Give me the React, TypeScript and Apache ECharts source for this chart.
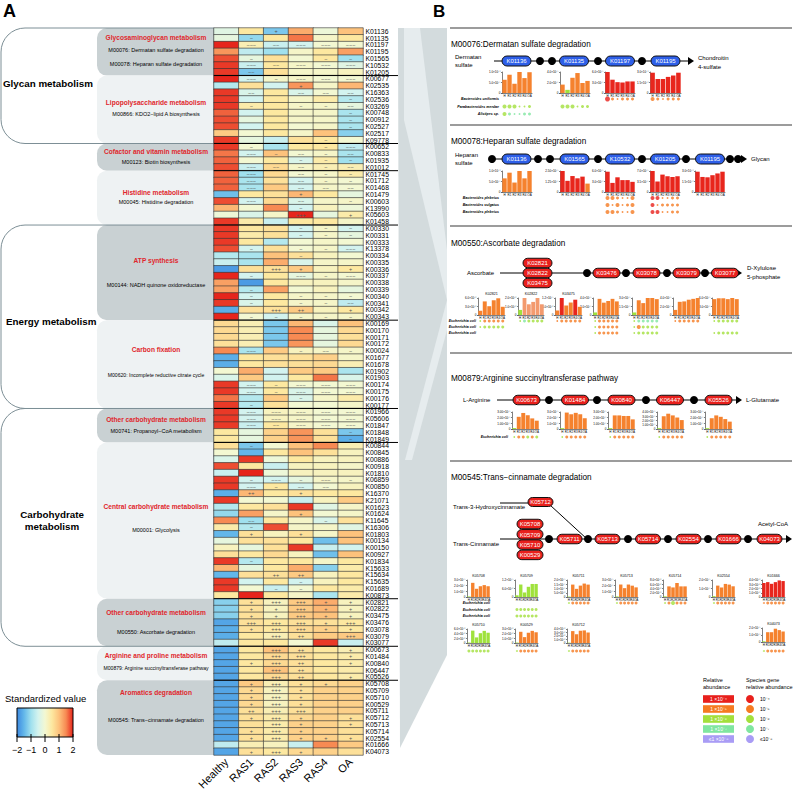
import React, { useEffect, useRef } from 'react';
import * as echarts from 'echarts';

const FONT = 'Liberation Sans, Arial, Helvetica, sans-serif';

// ---------------- Panel A data ----------------
const COLS = ['Healthy', 'RAS1', 'RAS2', 'RAS3', 'RAS4', 'OA'];
const ROWS = [
  'K01136','K01135','K01197','K01195','K01565','K10532','K01205','K00677','K02535','K16363',
  'K02536','K03269','K00748','K00912','K02527','K02517','K09778','K00652','K00833','K01935',
  'K01012','K01745','K01712','K01468','K01479','K00603','K13990','K05603','K01458','K00330',
  'K00331','K00333','K13378','K00334','K00335','K00336','K00337','K00338','K00339','K00340',
  'K00341','K00342','K00343','K00169','K00170','K00171','K00172','K00024','K01677','K01678',
  'K01902','K01903','K00174','K00175','K00176','K00177','K01966','K05606','K01847','K01848',
  'K01849','K00844','K00845','K00886','K00918','K01810','K06859','K00850','K16370','K21071',
  'K01623','K01624','K11645','K16306','K01803','K00134','K00150','K00927','K01834','K15633',
  'K15634','K15635','K01689','K00873','K02821','K02822','K03475','K03476','K03078','K03079',
  'K03077','K00673','K01484','K00840','K06447','K05526','K05708','K05709','K05710','K00529',
  'K05711','K05712','K05713','K05714','K02554','K01666','K04073'
];
const VALUES = [
  [-0.3,0.5,-1.3,1.2,-0.1,1.0],[-0.2,-1.1,0.5,1.6,0.1,0.5],[2,0.3,-0.6,-0.5,0,0],[1.4,-0.7,-1.0,0.1,0.5,1.3],
  [1.8,-0.2,0.6,0,0.5,-1.0],[1.9,-0.6,0.5,0.1,0,-0.3],[1.9,-1.3,0.6,0.1,0.1,0.2],[2,-0.5,0.1,0.1,0,0],
  [-0.8,0.6,-0.5,1.4,0.1,1.1],[1.9,-0.4,0.5,-0.4,0,-0.5],[1.9,-0.5,0.5,0.1,0.4,-0.8],[1.9,0.4,0.5,0.1,0.1,-0.2],
  [1.7,-0.5,0.5,0.1,0.1,-0.9],[1.8,-0.2,0.5,0.1,0.1,-0.9],[1.8,-0.5,0.5,0,0.1,-0.9],[0.9,0,0.5,0.1,1.0,-1.2],
  [1.9,-0.2,-0.6,0.6,0.5,0],[1.9,0,-0.9,0.5,0.5,-0.7],[1.6,-0.5,1.0,0,0.1,-0.9],[1.7,0,0.5,-0.4,0.4,-1.0],
  [1.8,-0.6,0.7,0.1,0.3,0.3],[1.7,-1.0,0.7,0,0.1,0.4],[1.7,-0.9,0.6,-0.5,0.1,0],[1.7,-0.9,0.9,-0.5,0.1,0],
  [-1.4,0.5,0.6,1.1,0.5,-0.2],[1.8,-0.5,0.7,-0.4,0.1,0.1],[1.1,0,1.5,-0.5,0.2,-0.1],[-0.1,-0.4,0.1,2,-0.2,0.4],
  [1.9,0.4,-0.6,0.5,0.5,0.1],[1.9,0.5,0.6,-0.5,0.1,-0.5],[1.9,0.4,0.6,-0.5,0.1,-0.2],[1.9,0.5,-0.8,0,0.1,0],
  [1.8,-0.5,0.6,0,0.1,-0.5],[-0.8,-0.9,1.0,0.6,0.2,0],[-0.6,-0.9,1.2,-0.4,0.1,0.1],[-1.8,0.6,0.6,0.9,0.2,0.5],
  [2,-0.5,0.5,-0.2,0.1,0],[1.3,-1.8,0.5,0.2,0.2,0.1],[1.3,-0.8,1.3,0,0.2,-0.2],[2,-0.5,0.5,0.1,0.1,0],
  [1.9,-0.4,0.5,0.1,0.1,-0.7],[-1.6,0.6,0.6,0.9,0.2,0.5],[2,0,-0.5,0.1,0.1,0.1],[0.7,0.3,-1.3,1.1,-0.4,1.0],
  [0.7,0.3,-1.3,1.5,-0.2,0.7],[0.7,0.3,-1.3,1.5,-0.2,0.6],[0.6,0.3,-1.3,1.4,-0.2,0.7],[1.5,-0.9,0.9,0.2,0.1,0.1],
  [-1.6,0.5,0.6,0.6,0.8,0.1],[-1.6,0.5,0.6,0.6,0.7,0.3],[0,1.2,-0.5,0.9,0.9,-0.9],[-0.4,0.9,-0.5,0.5,1.6,-0.4],
  [1.9,-0.5,0.5,0,0,0],[1.9,-0.5,0.5,-0.4,0,0],[1.6,-0.8,0.9,-0.4,0.1,0.4],[1.9,-0.8,0.6,0,0,0.1],
  [1.9,-0.5,0.2,0.1,0,0],[1.9,-0.5,0.2,0.1,0,0],[1.9,-0.6,0.5,0.1,0,0],[0.5,-0.2,0.8,1.4,0.6,-1.3],
  [0.5,-0.2,0.8,1.4,0.6,-1.6],[0.6,-1.3,0,1.0,1.5,0.3],[0,-1.5,0.5,1.0,0.6,0.2],[-0.4,1.9,-0.1,0.5,0.2,0.2],
  [1.8,0.5,-0.6,0.2,0.2,0.1],[-0.6,2,-0.1,0.2,0.2,0.2],[1.9,-0.5,-0.5,-0.2,0.1,0.1],[1.9,-0.5,0.5,-0.5,0,0.2],
  [-1.6,1.1,0.5,0.6,0.5,0.5],[1.9,0,0,-0.6,0.2,0.9],[-0.8,0.5,0.6,1.9,-0.3,0.1],[-1.1,1.3,0.1,1.0,0,0.1],
  [1.5,-1.0,0.5,0.1,-0.4,0.6],[0.4,-0.8,1.8,0.1,0.1,-0.3],[-1.5,0.6,0.2,0.6,0.1,1.0],[-0.2,0.6,0.6,0.5,-1.4,1.0],
  [0.2,-0.2,0.6,1.9,-0.6,-0.5],[0.6,0.5,0.7,0.2,-1.4,1.0],[1.9,-0.8,0.5,0.5,0.1,0.5],[1.1,-0.2,0.5,1.2,-1.2,0.4],
  [-1.5,0.6,0.6,0.9,0.2,0.5],[1.9,-0.5,0.5,-0.5,0.2,0.5],[1.9,0,-0.6,0,0.5,0.4],[0.5,2,0.5,0.1,-0.9,0.4],
  [-1.2,0.6,0.2,0.9,1.2,0.2],[-1.2,0.6,0.2,0.9,1.1,0.2],[-1.2,0.6,0.2,0.9,1.0,0.2],[-1.7,0.6,0.5,0.6,0.6,0.5],
  [-1.6,0.6,0.5,0.7,0.8,0.5],[-1.6,0.5,0.3,0.6,0.9,0.9],[-0.7,0.5,0.5,0,1.9,-0.6],[-1.7,0.5,1.0,0.6,0.5,0.3],
  [-1.7,0.5,0.7,0.6,0.5,0.4],[-1.7,0.5,0.7,0.6,0.5,0.4],[-1.7,0.5,1.0,0.6,0.5,0.4],[-1.7,0.5,0.7,0.6,0.5,0.4],
  [-1.7,0.9,0.3,0.6,0.7,0.8],[-1.7,0.7,0.2,0.6,0.8,0.8],[-1.7,0.7,0.2,0.6,0.8,0.8],[-1.7,0.7,0.2,0.6,0.8,0.8],
  [-1.7,0.6,0.3,0.6,0.8,0.8],[-1.7,0.6,0.4,0.7,0.8,0.6],[-1.7,0.6,0.4,0.8,0.8,0.6],[-1.7,0.6,0.4,0.8,0.8,0.6],
  [-1.7,0.6,0.4,0.8,0.8,0.6],[-0.7,0.3,0.2,-0.6,1.5,0.9],[-1.7,0.6,0.5,0.7,0.8,0.6]
];
const SYMBOLS = [
  ',,+,,,',',-,,,,',',---,--,---,---,---',',,,,,',',-,,,-,-',',---,--,---,---,---',',--,,,,',',---,-,---,---,---',
  ',,,+,,',',--,,--,--,--',',,,,,-',',-,,-,-,--',',,,,,-',',,,,,-',',,,,,-',',,,,,',
  ',,,,-,',',-,,,-,---',',---,-,--,-,--',',,,-,-,-',',---,--,--,-,--',',---,,--,-,-',',---,,--,-,-',',---,,--,--,--',
  ',,,+,,',',---,,--,,-',',,,-,,',',,,+++,,+',',,,,,',',,,-,-,-',',,,-,-,-',',,,,,',
  ',-,,-,-,---',',,,-,,',',,,,,',',,+++,+,,+',',-,,---,-,---',',,,,,',',-,,,,',',-,,-,-,-',
  ',-,,-,-,--',',,+++,++,,+',',-,-,-,-,-',',,,,,',',,,,,',',,,,,',',,,,,',',---,,-,--,-',
  ',,,,,',',,,,,',',,,,,',',,,,,',',---,-,---,---,---',',---,-,---,---,---',',,,-,,',',-,,,,',
  ',---,---,---,---,---',',---,---,---,---,---',',---,--,---,---,---',',,,,,-',',,,,,-',',-,,,,',',,,,,',',,,,,',
  ',,,,,',',,,,,',',-,---,-,---,-',',---,-,--,--,',',++,,+,,',',,,,,',',,,,,',',,,+,,',
  ',--,,,-,',',-,,,,',',+,,+,,',',,,,,',',,,,,',',,,,,',',-,,,,',',,,,,',
  ',,++,++,,',',,,-,,',',,-,-,,',',,,,,',',+,+++,+++,+,+',',+,+,+++,+,+',',+,+,+++,+,+',',+++,+++,+++,+,+++',
  ',+,+++,+++,+,+',',,+++,++,,+++',',,,,,',',,+++,++,,+',',,+++,+++,,+',',+,+++,++,,+',',,+++,++,,',',,+++,++,,+',
  ',+,+++,+,+,',',+,+++,+,,',',+,+++,+,,',',+,+++,+,,',',++,+++,+++,,',',+,+++,+,,+',',,+++,+,,+',',+,+++,+,,',
  ',+,+++,+,+,+',',,,,,',',+,+++,+,,'
];
const GROUP_BREAKS = [7, 17, 21, 29, 43, 56, 61, 84, 91, 96];
const HEAT_COLORS = ['#3d89e0','#63b7ea','#a0e0ee','#d3f3ef','#f3f8d2','#fde8a0','#fdc27c','#f78a53','#e6251c'];
const CBAR_TICKS = ['−2', '−1', '0', '1', '2'];

const SUB_GROUPS = [
  { title: 'Glycosaminoglycan metabolism', mods: ['M00076: Dermatan sulfate degradation', 'M00078: Heparan sulfate degradation'], rows: [0, 7] },
  { title: 'Lipopolysaccharide metabolism', mods: ['M00866: KDO2−lipid A biosynthesis'], rows: [7, 17] },
  { title: 'Cofactor and vitamin metabolism', mods: ['M00123: Biotin biosynthesis'], rows: [17, 21] },
  { title: 'Histidine metabolism', mods: ['M00045: Histidine degradation'], rows: [21, 29] },
  { title: 'ATP synthesis', mods: ['M00144: NADH quinone oxidoreductase'], rows: [29, 43] },
  { title: 'Carbon fixation', mods: ['M00620: Incomplete reductive citrate cycle'], rows: [43, 56] },
  { title: 'Other carbohydrate metabolism', mods: ['M00741: Propanoyl−CoA metabolism'], rows: [56, 61] },
  { title: 'Central carbohydrate metabolism', mods: ['M00001: Glycolysis'], rows: [61, 84] },
  { title: 'Other carbohydrate metabolism', mods: ['M00550: Ascorbate degradation'], rows: [84, 91] },
  { title: 'Arginine and proline metabolism', mods: ['M00879: Arginine succinyltransferase pathway'], rows: [91, 96] },
  { title: 'Aromatics degradation', mods: ['M00545: Trans−cinnamate degradation'], rows: [96, 107] },
];
const SUB_TEXT_Y = [[37, 50, 64], [102, 114], [151, 162], [192, 202], [260, 285], [349, 375], [419, 431], [506, 530], [612, 632], [655, 668], [692, 720]];
const MAJOR_GROUPS = [
  { name: ['Glycan metabolism'], rows: [0, 17] },
  { name: ['Energy metabolism'], rows: [29, 56] },
  { name: ['Carbohydrate', 'metabolism'], rows: [56, 91] },
];
const MAJOR_TEXT_POS = [[3, 83], [6, 321], [52, 514, 526]];

// ---------------- Panel B data ----------------
const MINI_CATS = ['H', 'R1', 'R2', 'R3', 'R4', 'OA'];

const M00076_KOS = ['K01136', 'K01135', 'K01197', 'K01195'];
const M00076_VALS = [[6.3,8.7,4.4,10,7.1,9.9],[1.6,0.6,2.9,3.8,1.9,2.3],[6.0,3.8,3.1,3.0,3.3,3.3],[2.9,2.0,2.0,2.3,2.5,2.9]];
const M00076_EXP = [-5, -5, -5, -4];
const M00076_AXIS = [[10, 5], [4, 2], [6, 3], [3, 1.5]];
const M00076_LEVEL = ['oooooo', 'ogoooo', 'rrrrrr', 'rrrrrr'];
const M00076_SPECIES = ['Bacteroides uniformis', 'Parabacteroides merdae', 'Alistipes sp.'];
const M00076_DOTS = [['', 'g3 g3 g3 g1 g1 g2', 'g3 l2 l1 l1 l2 l2'], ['', 'g3 g3 g3 g1 g2 g2', ''], ['r4 o2 o1 o2 o2 o2'], ['o3 o2 o1 o2 o2 o2']];

const M00078_KOS = ['K01136', 'K01565', 'K10532', 'K01205', 'K01195'];
const M00078_VALS = [[6.5,9.2,4.5,10,6.5,10],[2.5,1.33,1.9,1.63,1.83,1.0],[5.8,2.6,4.2,3.4,3.4,2.9],[7.0,3.5,5.8,5.25,5.0,5.25],[2.9,2.15,2.1,2.4,2.65,2.9]];
const M00078_EXP = [-5, -5, -5, -5, -4];
const M00078_AXIS = [[10, 5], [2.5, 1.25], [6, 3], [7, 3.5], [3, 1.5]];
const M00078_DEC = [1, 2, 1, 1, 1];
const M00078_LEVEL = ['oooooo', 'rrrrro', 'rrrrrr', 'rrrrrr', 'rrrrrr'];
const M00078_SPECIES = ['Bacteroides plebeius', 'Bacteroides vulgatus', 'Bacteroides plebeius'];
const M00078_DOTS = [[], [], ['o3 o3 o2 o1 o1 o3', 'o3 o1 o3 o1 o2 o3', 'o3 o3 o2 o1 o1 o3'], ['r3 r3 o1 o1 o2 o2', 'r3 o1 o2 o2 o2 o2', 'r3 r3 o1 o1 o2 o2'], []];

const M00550_KOS = ['K02821', 'K02822', 'K03475', 'K03476', 'K03078', 'K03079', 'K03077'];
const M00550_VALS = [[1.5,4.8,3.1,5.2,5.9,2.9],[0.6,2.0,1.26,1.54,2.0,1.26],[3.2,12,6.7,8.8,10.8,5.8],[0.6,3.8,2.9,3.3,3.8,3.2],[0.45,2.6,2.1,3.0,3.1,2.8],[1.2,3.1,3.2,3.6,3.8,4.0],[5.6,5.9,5.9,5.6,6.0,5.6]];
const M00550_EXP = [-6, -6, -6, -5, -5, -5, -5];
const M00550_AXIS = [[6, 3], [2, 1], [12, 6], [4, 2], [3, 1.5], [4, 2], [6, 3]];
const M00550_LEVEL = ['oooooo', 'gsssss', 'orooro', 'gooooo', 'gooooo', 'oooooo', 'oooooo'];
const M00550_SPECIES = ['Escherichia coli', 'Escherichia coli', 'Escherichia coli'];
const M00550_DOTS = [
  ['g1 o2 o2 o2 o2 o2', 'g1 g2 g2 g2 g2 g2', ''], ['g1 l2 g2 g2 g2 g2'], ['o1 o2 o2 o2 o2 o2'],
  ['g1 o2 o2 o2 o2 o2', 'g1 o2 o2 o2 o2 o2', 'g1 o2 o2 o2 o2 o2'], ['g1 l2 l2 l2 l2 l2', 'g1 o3 g2 g2 g2 g2', 'g1 g2 g2 g2 g2 g2'],
  ['o1 o2 o2 o2 o2 o2'], ['g1 g2 g2 g2 g2 g2', '', 'g1 g2 g2 g2 g2 g2']
];

const M00879_KOS = ['K00673', 'K01484', 'K00840', 'K06447', 'K05526'];
const M00879_VALS = [[0.17,2.15,2.83,2.43,1.87,1.47],[0.15,2.9,2.6,2.85,2.6,1.9],[0.15,2.4,2.4,2.3,2.3,1.7],[0.2,3.0,3.6,3.2,2.7,2.1],[0.15,1.9,2.4,2.15,1.75,1.3]];
const M00879_EXP = [-5, -5, -5, -5, -5];
const M00879_AXIS = [[3, 1], [3, 1], [3, 1], [4, 1], [3, 1]];
const M00879_DEC = [2, 1, 2, 2, 2];
const M00879_LEVEL = ['gooooo', 'gooooo', 'gooooo', 'gooooo', 'gooooo'];
const M00879_SPECIES = ['Escherichia coli'];
const M00879_DOTS = [['g1 o2 o2 g2 o2 g2'], ['g1 o2 o2 o2 o2 o2'], ['g1 o2 o2 o2 o2 o2'], ['g1 o2 o2 o2 o2 o2'], ['g1 o2 o2 o2 o2 o2']];

const M00545_KOS = ['K05708', 'K05709', 'K05711', 'K05713', 'K05714', 'K02554', 'K01666', 'K05710', 'K00529', 'K05712', 'K04073'];
const M00545_VALS = [[0.1,2.5,1.45,1.9,2.1,1.9],[1.2,8.8,3.2,7.2,9.2,9.2],[0.5,14.6,9.6,13.4,15.8,14.6],[0.1,2.2,1.56,2.2,2.0,1.7],[0.3,5.0,4.5,6.6,5.0,5.0],[0.1,1.34,1.12,1.54,1.46,1.26],[3.3,3.5,3.1,3.5,3.9,3.75],[0.2,5.3,2.4,4.2,5.2,4.4],[0.1,2.4,1.26,2.2,2.6,2.3],[0.1,3.4,2.5,3.5,3.6,3.0],[0.1,1.4,1.4,1.9,1.7,1.5]];
const M00545_EXP = [-5, -6, -6, -5, -6, -5, -6, -6, -6, -6, -5];
const M00545_AXIS = [[3, 1], [12, 6], [20, 5], [3, 1], [8, 2], [2, 1], [4, 1], [6, 2], [3, 1], [4, 1], [2, 1]];
const M00545_LEVEL = ['gooooo', 'gggggg', 'gooooo', 'gooooo', 'gooooo', 'gooooo', 'rrrrrr', 'gggggg', 'gooooo', 'gooooo', 'gooooo'];
const M00545_SPECIES = ['Escherichia coli', 'Escherichia coli', 'Escherichia coli'];
const M00545_DOTS = [
  [], ['', 'g2 g2 g2 g2 g2 g2', 'g2 g2 g2 g2 g2 g2'], ['g1 o2 o2 o2 o2 o2'], ['g1 o2 o2 o2 o2 o2'], ['g1 o2 g3 o2 o2 o2'],
  ['g1 o2 o2 o2 o2 o2'], ['o1 o2 o2 o2 o2 o2'], ['g2 g2 g2 g2 g2 g2'], ['g1 o2 o2 o2 o2 o2'], ['g1 o2 o2 o2 o2 o2'], ['g1 o2 o2 o2 o2 o2']
];

const LEG_BAR_LABELS = ['1 ×10⁻⁴', '1 ×10⁻⁵', '1 ×10⁻⁶', '1 ×10⁻⁷', '≤1 ×10⁻⁸'];
const LEG_DOT_LABELS = ['10⁻⁴', '10⁻⁵', '10⁻⁶', '10⁻⁷', '≤10⁻⁸'];

// ---------------- styles / layout ----------------
const LEVEL_COLORS: Record<string, string> = { r: '#e8201c', o: '#f57a22', g: '#a2e03c', l: '#80e6a0', p: '#a99cf5', s: '#f2946a' };
const BAR_COLORS: Record<string, string> = { r: '#e8261d', o: '#f5822e', g: '#9fe23c', s: '#f39a6e' };
const DOT_SIZE = [0, 1.8, 3, 4, 5];
const BLUE = '#2e5fe8';
const RED = '#e8201c';

const BLOCKS = [
  { kos: M00076_KOS, vals: M00076_VALS, exp: M00076_EXP, axis: M00076_AXIS, level: M00076_LEVEL, species: M00076_SPECIES, dots: M00076_DOTS,
    layout: { pos: [[502,72,30,21,0],[560,72,30,21,0],[605,72,30,21,0],[650,72,31,21,0]], rows: [[99,107,114]], spX: 499, titles: [] as number[] } },
  { kos: M00078_KOS, vals: M00078_VALS, exp: M00078_EXP, axis: M00078_AXIS, dec: M00078_DEC, level: M00078_LEVEL, species: M00078_SPECIES, dots: M00078_DOTS,
    layout: { pos: [[502,171,30,21,0],[560,171,30,21,0],[605,171,30,21,0],[650,171,30,21,0],[695,171,30,21,0]], rows: [[198,205,212]], spX: 499, titles: [] as number[] } },
  { kos: M00550_KOS, vals: M00550_VALS, exp: M00550_EXP, axis: M00550_AXIS, level: M00550_LEVEL, species: M00550_SPECIES, dots: M00550_DOTS,
    layout: { pos: [[478,298,27,17,0],[518,298,26,17,0],[555,298,27,17,0],[593,298,26,17,0],[632,298,27,17,0],[673,298,27,17,0],[712,298,27,17,0]], rows: [[321,327,333]], spX: 476, titles: [0, 1, 2] } },
  { kos: M00879_KOS, vals: M00879_VALS, exp: M00879_EXP, axis: M00879_AXIS, dec: M00879_DEC, level: M00879_LEVEL, species: M00879_SPECIES, dots: M00879_DOTS,
    layout: { pos: [[512,412,27,17,0],[560,412,27,17,0],[608,412,27,17,0],[657,412,27,17,0],[705,412,27,17,0]], rows: [[437]], spX: 508, titles: [] as number[] } },
  { kos: M00545_KOS, vals: M00545_VALS, exp: M00545_EXP, axis: M00545_AXIS, level: M00545_LEVEL, species: M00545_SPECIES, dots: M00545_DOTS,
    layout: { pos: [[467,580,23,17,0],[515,580,23,17,0],[567,580,23,17,0],[615,580,23,17,0],[663,580,24,17,0],[712,580,23,17,0],[762,580,23,17,0],
                    [467,629,23,14,1],[515,629,23,14,1],[567,629,23,14,1],[762,628,23,14,1]], rows: [[603,610,616],[651]], spX: 490, titles: [0,1,2,3,4,5,6,7,8,9,10] } },
];

const SUP: Record<string, string> = { '-': '⁻', '0': '⁰', '1': '¹', '2': '²', '3': '³', '4': '⁴', '5': '⁵', '6': '⁶', '7': '⁷', '8': '⁸', '9': '⁹' };
function sci(v: number, exp: number, dec: number) {
  if (Math.abs(v) < 1e-9) return '0';
  let m = Number(v.toFixed(6));
  let e = exp;
  while (m >= 9.9999) { m /= 10; e++; }
  while (m < 0.99999) { m *= 10; e--; }
  return m.toFixed(dec) + '×10' + String(e).split('').map((c) => SUP[c]).join('');
}

function buildOption() {
  const grid: any[] = [];
  const xAxis: any[] = [];
  const yAxis: any[] = [];
  const series: any[] = [];
  const G: any[] = [];

  const txt = (x: number, y: number, text: string, o: any = {}) => G.push({
    type: 'text', x, y, z: o.z ?? 5, silent: true,
    style: { text, fontSize: o.fs ?? 6, fontFamily: FONT, fontWeight: o.fw ?? 'normal', fontStyle: o.fst ?? 'normal',
      fill: o.c ?? '#000', align: o.a ?? 'left', textAlign: o.a ?? 'left', verticalAlign: o.va ?? 'middle', textVerticalAlign: o.va ?? 'middle' },
  });
  const line = (x1: number, y1: number, x2: number, y2: number, stroke = '#000', lw = 1, z = 3) =>
    G.push({ type: 'line', z, silent: true, shape: { x1, y1, x2, y2 }, style: { stroke, lineWidth: lw } });
  const dot = (cx: number, cy: number, r = 4, fill = '#000') =>
    G.push({ type: 'circle', z: 4, silent: true, shape: { cx, cy, r }, style: { fill } });
  const arrow = (x: number, y: number) =>
    G.push({ type: 'polygon', z: 4, silent: true, shape: { points: [[x - 6, y - 4], [x, y], [x - 6, y + 4]] }, style: { fill: '#000' } });
  const capsule = (cx: number, cy: number, w: number, h: number, label: string, fill: string) => {
    G.push({ type: 'rect', z: 4, silent: true, shape: { x: cx - w / 2, y: cy - h / 2, width: w, height: h, r: h / 2 }, style: { fill, stroke: '#111', lineWidth: 1 } });
    txt(cx, cy + 0.3, label, { fs: 6, a: 'center', c: '#fff', z: 6 });
  };

  // ---------- Panel A heatmap ----------
  const HT = 28, HH = 727, HL = 214, HW = 149;
  const rh = HH / ROWS.length;
  grid.push({ left: HL, top: HT, width: HW, height: HH, show: false });
  xAxis.push({ type: 'category', gridIndex: 0, data: COLS, position: 'bottom', axisLine: { show: false }, axisTick: { show: false },
    axisLabel: { rotate: 45, fontSize: 11, color: '#000', fontFamily: FONT, margin: 5, interval: 0 } });
  yAxis.push({ type: 'category', gridIndex: 0, data: ROWS, inverse: true, position: 'right', axisLine: { show: false }, axisTick: { show: false },
    axisLabel: { fontSize: 6.8, color: '#000', margin: 2.5, interval: 0, fontFamily: FONT } });
  const heatData: number[][] = [];
  VALUES.forEach((row, yi) => row.forEach((v, xi) => heatData.push([xi, yi, v])));
  const SYM = SYMBOLS.map((s) => s.split(',').map((t) => t.replace(/-/g, '−')));
  series.push({
    type: 'heatmap', xAxisIndex: 0, yAxisIndex: 0, data: heatData, silent: true,
    itemStyle: { borderColor: '#333', borderWidth: 0.6 },
    label: { show: true, fontSize: 5.5, color: '#555', fontFamily: FONT, formatter: (p: any) => SYM[p.value[1]][p.value[0]] || '' },
    emphasis: { disabled: true },
  });
  GROUP_BREAKS.forEach((k) => line(HL, HT + k * rh, 398, HT + k * rh, '#000', 1, 10));

  // left sub groups
  SUB_GROUPS.forEach((g, i) => {
    const y0 = HT + g.rows[0] * rh, y1 = HT + g.rows[1] * rh;
    G.push({ type: 'rect', z: 1, silent: true, shape: { x: 97, y: y0, width: HL - 97, height: y1 - y0, r: [10, 0, 0, 10] },
      style: { fill: i % 2 === 0 ? '#c9d1d3' : '#eef2f3' } });
    const ys = SUB_TEXT_Y[i];
    txt(156, ys[0], g.title, { fs: 6.6, fw: 'bold', c: '#e0262c', a: 'center' });
    g.mods.forEach((m, k) => txt(156, ys[k + 1], m, { fs: m.length > 40 ? 5.1 : 5.5, a: 'center' }));
  });
  MAJOR_GROUPS.forEach((g, i) => {
    const y0 = HT + g.rows[0] * rh, y1 = HT + g.rows[1] * rh;
    G.push({ type: 'rect', z: 2, silent: true, shape: { x: 1, y: y0, width: HL - 1, height: y1 - y0, r: [24, 0, 0, 24] },
      style: { fill: 'none', stroke: '#7d8f96', lineWidth: 1 } });
    const p = MAJOR_TEXT_POS[i];
    if (g.name.length === 1) txt(p[0], p[1], g.name[0], { fs: 9.8, fw: 'bold' });
    else { txt(p[0], p[1], g.name[0], { fs: 9.8, fw: 'bold', a: 'center' }); txt(p[0], p[2], g.name[1], { fs: 9.8, fw: 'bold', a: 'center' }); }
  });

  // colour bar
  txt(5, 698, 'Standardized value', { fs: 9.5 });
  G.push({ type: 'rect', z: 3, silent: true, shape: { x: 17, y: 708, width: 56, height: 29 },
    style: { fill: { type: 'linear', x: 0, y: 0, x2: 1, y2: 0, colorStops: HEAT_COLORS.map((c, k) => ({ offset: k / (HEAT_COLORS.length - 1), color: c })) }, stroke: '#000', lineWidth: 1 } });
  CBAR_TICKS.forEach((t, k) => {
    const x = 17 + k * 14;
    line(x, 734, x, 742, '#000', 1);
    txt(x, 750, t, { fs: 9, a: 'center' });
  });

  txt(3, 11, 'A', { fs: 18, fw: 'bold' });
  txt(433, 11, 'B', { fs: 17, fw: 'bold' });

  // connector
  G.push({ type: 'polygon', z: 0, silent: true, shape: { points: [[398, 28], [447, 28], [447, 655], [400, 748]] }, style: { fill: '#d3dbdd' } });
  G.push({ type: 'polygon', z: 0, silent: true, shape: { points: [[404, 28], [420, 28], [447, 250], [447, 300], [404, 120]] }, style: { fill: '#e6ecee' } });
  G.push({ type: 'polygon', z: 0, silent: true, shape: { points: [[447, 300], [447, 330], [412, 460], [405, 460]] }, style: { fill: '#e6ecee' } });

  // ---------- Panel B ----------
  [28, 125, 226, 353, 461].forEach((y) => line(450, y, 792, y, '#3a3a3a', 1.2));
  txt(451, 44, 'M00076:Dermatan sulfate degradation', { fs: 8.2 });
  txt(451, 141, 'M00078:Heparan sulfate degradation', { fs: 8.2 });
  txt(451, 243, 'M00550:Ascorbate degradation', { fs: 8.2 });
  txt(451, 378, 'M00879:Arginine succinyltransferase pathway', { fs: 8.2 });
  txt(451, 477, 'M00545:Trans−cinnamate degradation', { fs: 8.2 });

  // M00076 pathway
  txt(455, 57, 'Dermatan', { fs: 6 }); txt(455, 65, 'sulfate', { fs: 6 });
  line(494, 61, 689, 61); arrow(694, 61);
  [540, 552, 598, 642].forEach((x) => dot(x, 61));
  [516.5, 574, 620, 665.5].forEach((cx, i) => capsule(cx, 61, 29, 10, M00076_KOS[i], BLUE));
  txt(698, 58, 'Chondroitin', { fs: 6 }); txt(698, 67, '4-sulfate', { fs: 6 });

  // M00078 pathway
  txt(455, 155, 'Heparan', { fs: 6 }); txt(455, 163, 'sulfate', { fs: 6 });
  line(489, 159, 742, 159); arrow(747, 159);
  [492, 538, 550, 598, 642, 686, 730, 738].forEach((x) => dot(x, 159));
  [516.5, 574.5, 620, 665, 710].forEach((cx, i) => capsule(cx, 159, 29, 10, M00078_KOS[i], BLUE));
  txt(751, 159, 'Glycan', { fs: 6 });

  // M00550 pathway
  txt(467, 273, 'Ascorbate', { fs: 6 });
  line(500, 273, 737, 273); arrow(742, 273);
  [587, 626, 667, 705].forEach((x) => dot(x, 273));
  [263, 273, 283].forEach((cy, i) => capsule(537.5, cy, 29, 9.5, M00550_KOS[i], RED));
  [606.5, 646.5, 686.5, 725].forEach((cx, i) => capsule(cx, 273, 27, 9.5, M00550_KOS[i + 3], RED));
  txt(747, 268, 'D-Xylulose', { fs: 6 }); txt(747, 277, '5-phosphate', { fs: 6 });

  // M00879 pathway
  txt(463, 400, 'L-Arginine', { fs: 6 });
  line(497, 400, 737, 400); arrow(742, 400);
  [549, 597, 646, 694].forEach((x) => dot(x, 400));
  [526.5, 575, 621.5, 670, 718.5].forEach((cx, i) => capsule(cx, 400, 27, 9.5, M00879_KOS[i], RED));
  txt(746, 400, 'L-Glutamate', { fs: 6 });

  // M00545 pathway
  txt(453, 507, 'Trans-3-Hydroxycinnamate', { fs: 6 });
  line(500, 503, 530, 503);
  line(550, 505, 587, 539);
  capsule(540.5, 502, 25, 9, 'K05712', RED);
  txt(453, 544, 'Trans-Cinnamate', { fs: 6 });
  line(500, 539, 787, 539); arrow(792, 539);
  [549, 588, 628, 668, 708, 748].forEach((x) => dot(x, 539));
  ['K05708', 'K05709', 'K05710', 'K00529'].forEach((k, i) => capsule(530, 524 + i * 10.3, 26, 9.5, k, RED));
  ['K05711', 'K05713', 'K05714', 'K02554', 'K01666', 'K04073'].forEach((k, i) => capsule([569.5, 607.5, 648, 688.5, 728.5, 769.5][i], 539, 25, 9.5, k, RED));
  txt(758, 524, 'Acetyl-CoA', { fs: 6 });

  // mini charts
  BLOCKS.forEach((b: any) => {
    b.kos.forEach((ko: string, i: number) => {
      const [x, top, w, h, rs] = b.layout.pos[i];
      const gi = grid.length;
      const [max, step] = b.axis[i];
      const exp = b.exp[i];
      const dec = b.dec ? b.dec[i] : 1;
      grid.push({ left: x, top, width: w, height: h, show: false });
      xAxis.push({ type: 'category', gridIndex: gi, data: MINI_CATS, axisLine: { lineStyle: { color: '#000', width: 0.5 } }, axisTick: { show: false },
        axisLabel: { fontSize: 3, margin: 1, interval: 0, color: '#000', fontFamily: FONT } });
      yAxis.push({ type: 'value', gridIndex: gi, min: 0, max, interval: step, splitLine: { show: false },
        axisLine: { show: true, lineStyle: { color: '#000', width: 0.5 } }, axisTick: { show: true, length: 1, lineStyle: { width: 0.5 } },
        axisLabel: { fontSize: 3, margin: 1.5, color: '#000', fontFamily: FONT, formatter: (v: number) => sci(v, exp, dec) } });
      series.push({ type: 'bar', xAxisIndex: gi, yAxisIndex: gi, barCategoryGap: '12%', silent: true,
        data: b.vals[i].map((v: number, k: number) => ({ value: v, itemStyle: { color: BAR_COLORS[b.level[i][k]] } })) });
      if (b.layout.titles.includes(i)) txt(x + w / 2, top - 4, ko, { fs: 3.6, a: 'center' });

      const rows: number[] = b.layout.rows[rs];
      const pts: any[] = [];
      (b.dots[i] || []).forEach((code: string, ri: number) => {
        if (!code) return;
        code.split(' ').forEach((tok: string, xi: number) => {
          const lv = Number(tok[1]);
          if (lv > 0) pts.push({ value: [xi, ri], symbolSize: DOT_SIZE[lv], itemStyle: { color: LEVEL_COLORS[tok[0]] } });
        });
      });
      if (pts.length) {
        const s = rows.length > 1 ? (rows[rows.length - 1] - rows[0]) / (rows.length - 1) : 6;
        const gj = grid.length;
        grid.push({ left: x, top: rows[0] - s / 2, width: w, height: s * rows.length, show: false });
        xAxis.push({ type: 'category', gridIndex: gj, data: MINI_CATS, show: false });
        yAxis.push({ type: 'category', gridIndex: gj, data: rows.map((_, k) => String(k)), inverse: true, show: false });
        series.push({ type: 'scatter', xAxisIndex: gj, yAxisIndex: gj, data: pts, silent: true, symbol: 'circle' });
      }
    });
    b.species.forEach((sp: string, k: number) => txt(b.layout.spX, b.layout.rows[0][k], sp, { fs: 3.6, a: 'right', fw: 'bold', fst: 'italic' }));
  });

  // legend
  txt(703, 680, 'Relative', { fs: 5.5 }); txt(703, 687, 'abundance', { fs: 5.5 });
  txt(746, 680, 'Species gene', { fs: 5.5 }); txt(746, 687, 'relative abundance', { fs: 5.5 });
  const legCols = [LEVEL_COLORS.r, LEVEL_COLORS.o, LEVEL_COLORS.g, LEVEL_COLORS.l, LEVEL_COLORS.p];
  LEG_BAR_LABELS.forEach((t, k) => {
    const y = 699 + k * 10;
    G.push({ type: 'rect', z: 3, silent: true, shape: { x: 703, y: y - 3.8, width: 31, height: 7.6 }, style: { fill: legCols[k] } });
    txt(718.5, y, t, { fs: 5, a: 'center', c: '#fff' });
    dot(750, y, 4, legCols[k]);
    txt(760, y, LEG_DOT_LABELS[k], { fs: 5 });
  });

  return {
    animation: false,
    backgroundColor: '#fff',
    textStyle: { fontFamily: FONT },
    grid, xAxis, yAxis, series,
    visualMap: { show: false, type: 'continuous', min: -2, max: 2, seriesIndex: 0, dimension: 2, inRange: { color: HEAT_COLORS } },
    graphic: { elements: G },
  };
}

export default function App() {
  const ref = useRef<HTMLDivElement>(null);
  useEffect(() => {
    const chart = echarts.init(ref.current!, null, { renderer: 'svg' });
    chart.setOption(buildOption() as any);
    return () => chart.dispose();
  }, []);
  return <div ref={ref} style={{ position: 'fixed', left: 0, top: 0, width: 795, height: 793, background: '#fff' }} />;
}
